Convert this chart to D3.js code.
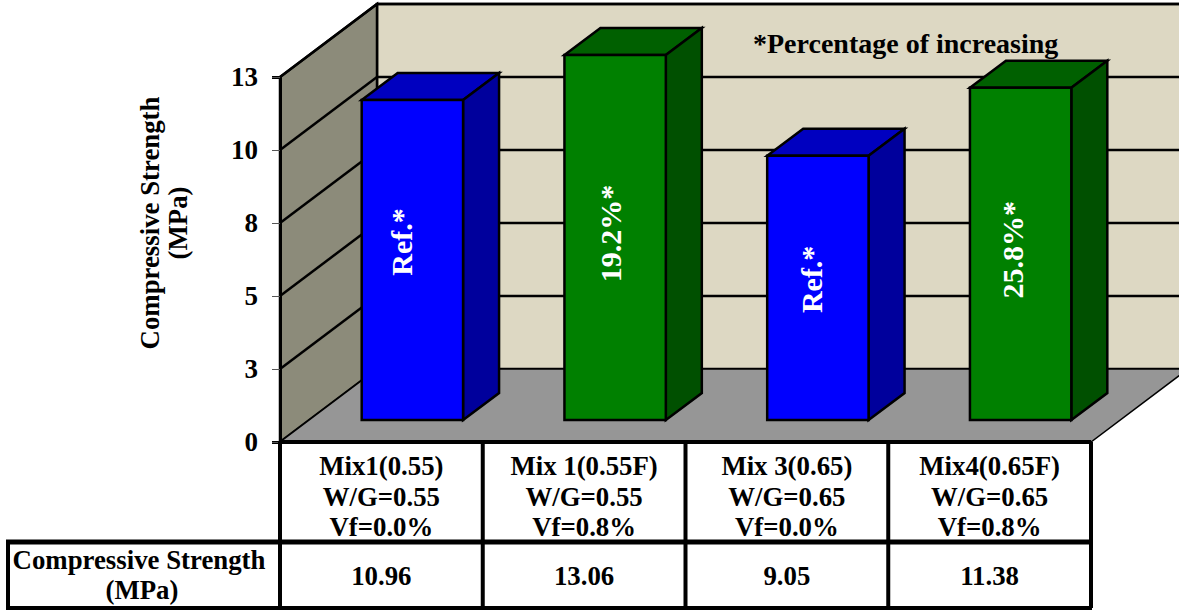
<!DOCTYPE html>
<html>
<head>
<meta charset="utf-8">
<script src="https://cdn.jsdelivr.net/npm/d3@7/dist/d3.min.js"></script>
<style>
html,body{margin:0;padding:0;background:#fff}
svg{display:block}
text{font-family:"Liberation Serif","Times New Roman",serif;font-weight:bold;fill:#000}
</style>
</head>
<body>
<svg id="chart" width="1179" height="611"></svg>
<script>
// Compressive strength per mix
const mixNames = ["Mix1(0.55)", "Mix 1(0.55F)", "Mix 3(0.65)", "Mix4(0.65F)"];
const ratios = ["W/G=0.55", "W/G=0.55", "W/G=0.65", "W/G=0.65"];
const fibres = ["Vf=0.0%", "Vf=0.8%", "Vf=0.0%", "Vf=0.8%"];
const strengths = [10.96, 13.06, 9.05, 11.38];
const barNotes = ["Ref.*", "19.2%*", "Ref.*", "25.8%*"];
const axisTicks = [0, 2.5, 5, 7.5, 10, 12.5];

const W = 1179, H = 611;
const svg = d3.select("#chart");

// Plot box: front edge of the floor, plus the oblique depth vector
const left = 280, right = 1091, base = 442, top12 = 77;
const depth = {x: 97, y: -73};
const barShift = {x: 31, y: -22};      // how far into the box a bar stands
const barDepth = {x: 36, y: -27};      // oblique depth of a bar
const noteLift = [18, 4, 8.5, 4];      // upward nudge of each bar's note from the bar's middle
const noteSlide = [0, 6, 4, 2];        // sideways nudge of each bar's note

const x = d3.scaleBand().domain(d3.range(mixNames.length)).range([left, right]).paddingInner(0.5).paddingOuter(0.25);
const band = d3.scaleBand().domain(d3.range(mixNames.length)).range([left, right]);
// The axis stops at 12.5, so taller bars are cut off at its top
const y = d3.scaleLinear().domain([0, 12.5]).range([base, top12]).clamp(true);
const poly = pts => pts.map(p => p.join(",")).join(" ");

const colors = {
  back: "#ddd8c3", side: "#8c8b7a", floor: "#969696",
  blue: ["#0000ff", "#0000c0", "#00009c"],
  green: ["#008000", "#006000", "#005000"]
};
const seriesOf = i => (i % 2 === 0 ? colors.blue : colors.green);

const scene = svg.append("g").attr("stroke-linejoin", "miter");

// Back wall (runs off the right edge of the page), side wall, floor
scene.append("rect")
  .attr("x", left + depth.x).attr("y", y(12.5) + depth.y)
  .attr("width", W).attr("height", y(0) - y(12.5))
  .attr("fill", colors.back).attr("stroke", "#000").attr("stroke-width", 2.5);
scene.append("polygon")
  .attr("points", poly([[left, y(0)], [left, y(12.5)], [left + depth.x, y(12.5) + depth.y], [left + depth.x, y(0) + depth.y]]))
  .attr("fill", colors.side).attr("stroke", "#000").attr("stroke-width", 2.5);
scene.append("polygon")
  .attr("points", poly([[left, y(0)], [right, y(0)], [right + depth.x, y(0) + depth.y], [left + depth.x, y(0) + depth.y]]))
  .attr("fill", colors.floor).attr("stroke", "#000").attr("stroke-width", 1.5);

// Gridlines: across the back wall and down the side wall
const grid = scene.append("g").attr("stroke", "#000").attr("stroke-width", 2.5);
axisTicks.slice(1).forEach(t => {
  grid.append("line").attr("x1", left + depth.x).attr("x2", W + 5)
    .attr("y1", y(t) + depth.y).attr("y2", y(t) + depth.y);
  grid.append("line").attr("x1", left).attr("x2", left + depth.x)
    .attr("y1", y(t)).attr("y2", y(t) + depth.y);
});

// Value axis with labels rounded to whole numbers
const axis = svg.append("g").attr("transform", `translate(${left},0)`)
  .call(d3.axisLeft(y).tickValues(axisTicks).tickSize(8).tickPadding(14)
    .tickFormat(v => String(Math.round(v))));
axis.select(".domain").attr("stroke", "#000").attr("stroke-width", 3);
axis.selectAll(".tick line").attr("stroke", "#555").attr("stroke-width", 1);
axis.selectAll(".tick text").style("font-size", "27px").style("font-family", null);

svg.append("text")
  .attr("transform", `translate(159,223) rotate(-90)`)
  .attr("text-anchor", "middle").style("font-size", "26.8px")
  .selectAll("tspan").data(["Compressive Strength", "(MPa)"]).join("tspan")
  .attr("x", 0).attr("dy", (d, i) => (i ? 28 : 0)).text(d => d);

svg.append("text").attr("x", 753).attr("y", 53).style("font-size", "28px").text("*Percentage of increasing");

// Oblique bars
const bars = svg.append("g").selectAll("g").data(strengths).join("g");
bars.each(function (v, i) {
  const g = d3.select(this);
  const c = seriesOf(i);
  const x0 = x(i) + barShift.x, x1 = x0 + x.bandwidth();
  const yB = y(0) + barShift.y, yT = y(v) + barShift.y;
  g.append("polygon").attr("points", poly([[x0, yT], [x1, yT], [x1 + barDepth.x, yT + barDepth.y], [x0 + barDepth.x, yT + barDepth.y]]))
    .attr("fill", c[1]).attr("stroke", "#000").attr("stroke-width", 2.5);
  g.append("polygon").attr("points", poly([[x1, yT], [x1 + barDepth.x, yT + barDepth.y], [x1 + barDepth.x, yB + barDepth.y], [x1, yB]]))
    .attr("fill", c[2]).attr("stroke", "#000").attr("stroke-width", 2.5);
  g.append("rect").attr("x", x0).attr("y", yT).attr("width", x1 - x0).attr("height", yB - yT)
    .attr("fill", c[0]).attr("stroke", "#000").attr("stroke-width", 2.5);
  g.append("text")
    .attr("transform", `translate(${(x0 + x1) / 2 + noteSlide[i]},${(yT + yB) / 2 - noteLift[i]}) rotate(-90)`)
    .attr("text-anchor", "middle")
    .style("font-size", "30px").style("fill", "#fff").text(barNotes[i]);
});

// Data table below the plot
const tableLines = svg.append("g").attr("stroke", "#000").attr("fill", "none");
const rowHead = 542, rowEnd = 608, tableLeft = 8;
tableLines.append("line").attr("x1", left).attr("x2", right).attr("y1", base).attr("y2", base).attr("stroke-width", 4);
tableLines.append("line").attr("x1", tableLeft - 2).attr("x2", right + 1).attr("y1", rowHead).attr("y2", rowHead).attr("stroke-width", 5);
tableLines.append("line").attr("x1", tableLeft - 2).attr("x2", right + 1).attr("y1", rowEnd).attr("y2", rowEnd).attr("stroke-width", 4);
tableLines.append("line").attr("x1", tableLeft).attr("x2", tableLeft).attr("y1", rowHead).attr("y2", rowEnd).attr("stroke-width", 4);
d3.range(mixNames.length + 1).forEach(i => {
  const px = i < mixNames.length ? band(i) : right;
  tableLines.append("line").attr("x1", px).attr("x2", px).attr("y1", base).attr("y2", rowEnd).attr("stroke-width", 4);
});

const cells = svg.append("g").attr("text-anchor", "middle");
mixNames.forEach((name, i) => {
  const cx = band(i) + band.bandwidth() / 2;
  [name, ratios[i], fibres[i]].forEach((s, k) => {
    cells.append("text").attr("x", cx).attr("y", 475 + k * 30.5).style("font-size", "26.8px").text(s);
  });
  cells.append("text").attr("x", cx).attr("y", 585).style("font-size", "26.8px").text(strengths[i].toFixed(2));
});
cells.append("text").attr("x", 139).attr("y", 569).style("font-size", "26.8px").text("Compressive Strength");
cells.append("text").attr("x", 142).attr("y", 599).style("font-size", "26.8px").text("(MPa)");
</script>
</body>
</html>
